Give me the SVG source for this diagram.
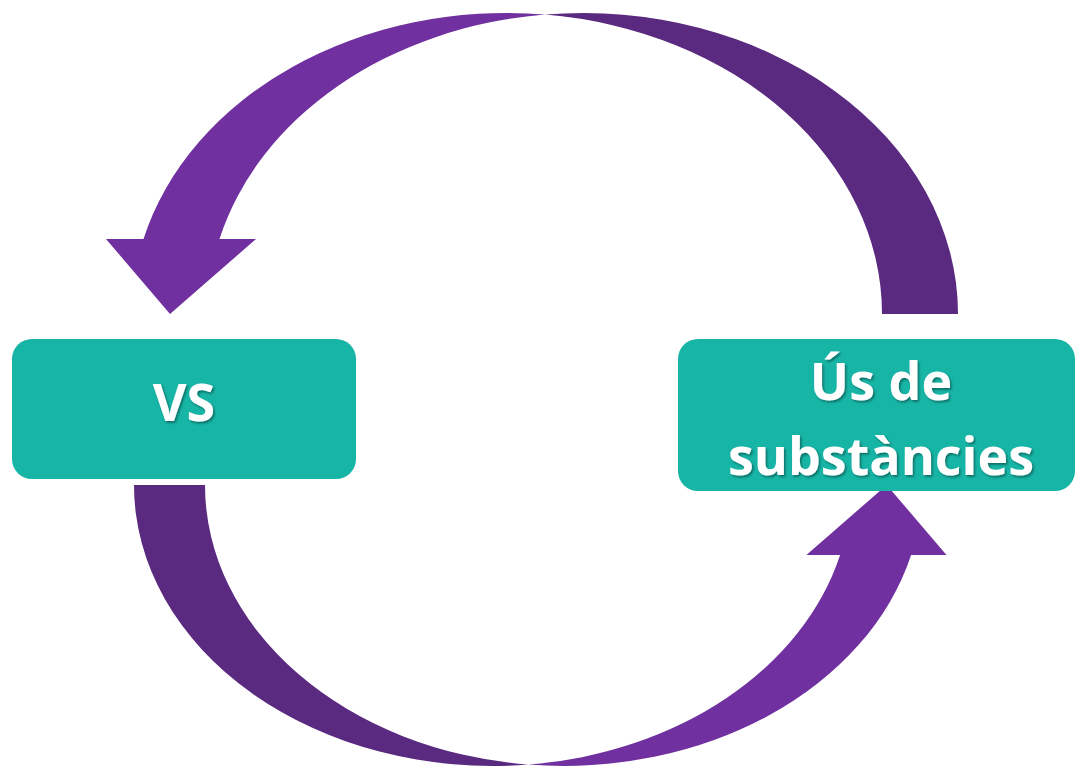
<svg xmlns="http://www.w3.org/2000/svg" width="1077" height="769" viewBox="0 0 1077 769">
  <defs>
    <filter id="ts" x="-20%" y="-20%" width="140%" height="140%">
      <feDropShadow dx="1.5" dy="1.8" stdDeviation="1.2" flood-color="#000" flood-opacity="0.4"/>
    </filter>
    <style>
      .light { fill: #7030A0; }
      .dark { fill: #5A2980; }
      .box { fill: #17B5A6; }
      .lbl { font-family: "Open Sans", "Noto Sans", "Liberation Sans", sans-serif; font-weight: bold; font-size: 52px; fill: #FFFFFF; text-anchor: middle; filter: url(#ts); }
    </style>
  </defs>
  <rect width="1077" height="769" fill="#FFFFFF"/>
  <g id="connectors">
    <g id="arrow-top">
      <path class="dark" d="M 545 14.55 A 375 301 0 0 1 958 314 L 882 314 A 375 301 0 0 0 545 14.55 Z"/>
      <path class="light" d="M 143.5 239 L 106 239 L 170 314 L 256 239 L 219.5 239 A 375 301 0 0 1 545 14.55 A 375 301 0 0 0 143.5 239 Z"/>
    </g>
    <g id="arrow-bottom">
      <path class="dark" d="M 134 485 A 358.7 281 0 0 0 528.2 764.6 A 358.7 281 0 0 1 205 485 Z"/>
      <path class="light" d="M 528.2 764.6 A 358.7 281 0 0 0 911.1 555 L 946.5 555 L 886.7 485 L 806.4 555 L 840.1 555 A 358.7 281 0 0 1 528.2 764.6 Z"/>
    </g>
  </g>
  <g id="node-vs">
    <rect class="box" x="12" y="339" width="344" height="140" rx="20" ry="20"/>
    <text class="lbl" x="184" y="421" font-size="56">VS</text>
  </g>
  <g id="node-us">
    <rect class="box" x="678" y="339" width="397" height="152" rx="20" ry="20"/>
    <text class="lbl" x="881" y="400">Ús de</text>
    <text class="lbl" x="881" y="475">substàncies</text>
  </g>
</svg>
